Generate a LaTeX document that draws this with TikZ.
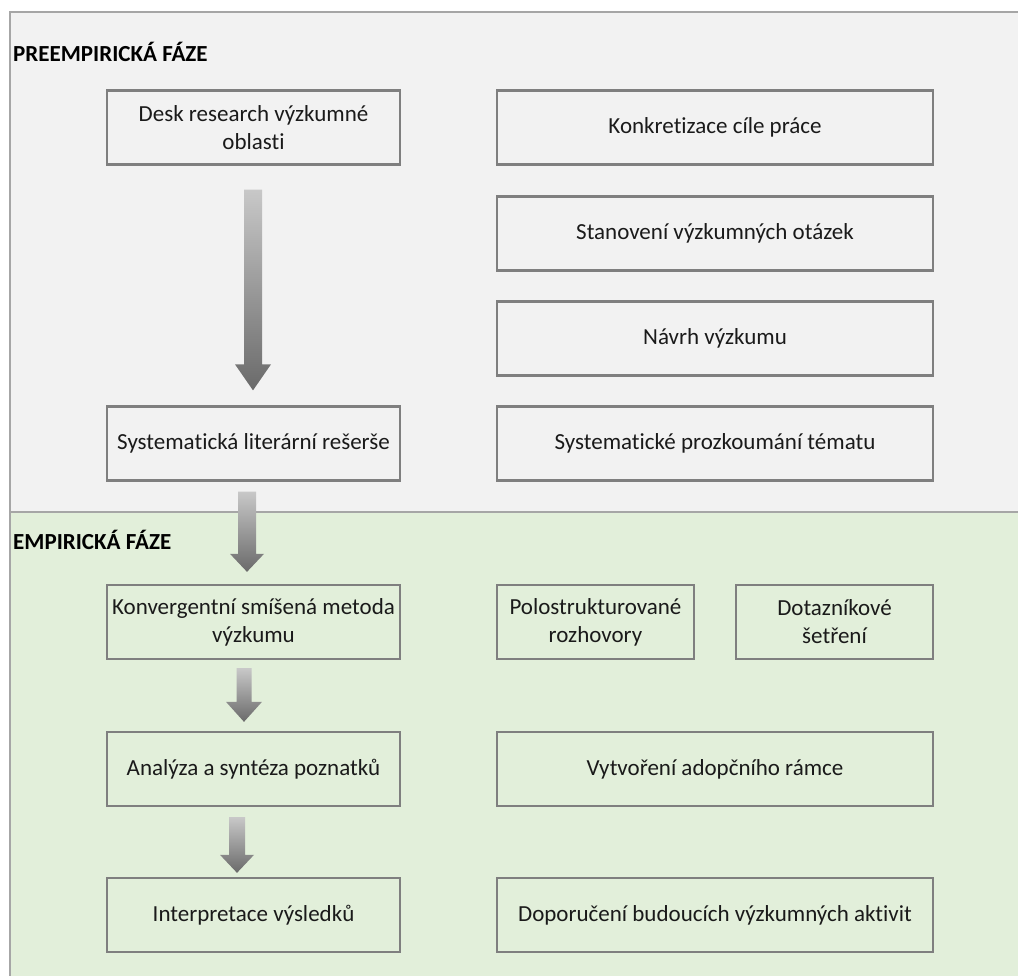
\documentclass[tikz,border=0pt]{standalone}
\usepackage{fontspec}
\setmainfont[Ligatures=NoCommon]{Carlito}
\usetikzlibrary{calc}

\definecolor{panelgray}{HTML}{F2F2F2}
\definecolor{panelgreen}{HTML}{E2EFDA}
\definecolor{framegray}{HTML}{A6A6A6}
\definecolor{boxline}{HTML}{7F7F7F}
\definecolor{inktext}{HTML}{1A1A1A}
\definecolor{arrowtop}{HTML}{C8C8C8}
\definecolor{arrowbot}{HTML}{6A6A6A}

\tikzset{
  stepbox/.style={draw=boxline, line width=2.3pt, inner sep=2pt,
    align=center, text=inktext, font=\fontsize{23}{28}\selectfont,
    minimum height=74pt},
  leftbox/.style={stepbox, minimum width=293pt},
  widebox/.style={stepbox, minimum width=436pt},
  halfbox/.style={stepbox, minimum width=197pt},
  phaselabel/.style={anchor=base west, inner sep=0pt, text=black,
    font=\fontsize{23}{28}\selectfont\bfseries},
}

% Block arrow with a vertical grey gradient, hanging between two nodes.
% #1 upper node, #2 lower node, #3 x of the arrow axis,
% #4 gap below upper node, #5 gap above lower node,
% #6 shaft half width, #7 head half width, #8 head length
\newcommand{\fatarrow}[8]{%
  \path let \p1=(#1.south), \p2=(#2.north) in
    coordinate (ta) at (#3pt,\y1-#4pt)
    coordinate (tb) at (#3pt,\y2+#5pt);
  \shade[top color=arrowtop, bottom color=arrowbot]
    let \p1=(ta), \p2=(tb) in
    (\x1-#6pt,\y1) -- (\x1+#6pt,\y1) -- (\x1+#6pt,\y2+#8pt)
    -- (\x1+#7pt,\y2+#8pt) -- (\x2,\y2) -- (\x1-#7pt,\y2+#8pt)
    -- (\x1-#6pt,\y2+#8pt) -- cycle;
}

\begin{document}
\begin{tikzpicture}[x=1pt,y=-1pt]
\useasboundingbox (0,0) rectangle (1018,976);

% panels
\fill[panelgray] (10,12) rectangle (1018,512);
\fill[panelgreen] (10,512) rectangle (1018,976);
\draw[framegray, line width=1.6pt] (1018,12) -- (10,12) -- (10,976);
\draw[framegray, line width=1.6pt] (10,512) -- (1018,512);

\node[phaselabel] (pre) at (13,62) {PREEMPIRICKÁ FÁZE};
\node[phaselabel] (emp) at (13,549) {EMPIRICKÁ FÁZE};

% pre-empirical phase
\node[leftbox] (desk) at (253.5,127.5) {Desk research výzkumné\\oblasti};
\node[widebox] (konk) at (715,127.5) {Konkretizace cíle práce};
\node[widebox] (stan) at (715,233.5) {Stanovení výzkumných otázek};
\node[widebox] (navrh) at (715,338.5) {Návrh výzkumu};
\node[leftbox] (syst) at (253.5,443.5) {Systematická literární rešerše};
\node[widebox] (prozk) at (715,443.5) {Systematické prozkoumání tématu};

% empirical phase
\node[leftbox] (konv) at (253.5,622) {Konvergentní smíšená metoda\\výzkumu};
\node[halfbox] (polo) at (595.5,622) {Polostrukturované\\rozhovory};
\node[halfbox] (dotaz) at (834.5,622) {Dotazníkové\\šetření};
\node[leftbox] (anal) at (253.5,769) {Analýza a syntéza poznatků};
\node[widebox] (vytv) at (715,769) {Vytvoření adopčního rámce};
\node[leftbox] (interp) at (253.5,915) {Interpretace výsledků};
\node[widebox] (dopor) at (715,915) {Doporučení budoucích výzkumných aktivit};

% flow arrows
\fatarrow{desk}{syst}{253}{24}{15}{9}{18}{26}
\fatarrow{syst}{konv}{247}{10}{12}{9}{17}{18}
\fatarrow{konv}{anal}{244}{8}{9}{7.5}{18}{20}
\fatarrow{anal}{interp}{237}{10}{4}{8}{17}{18}
\end{tikzpicture}
\end{document}
